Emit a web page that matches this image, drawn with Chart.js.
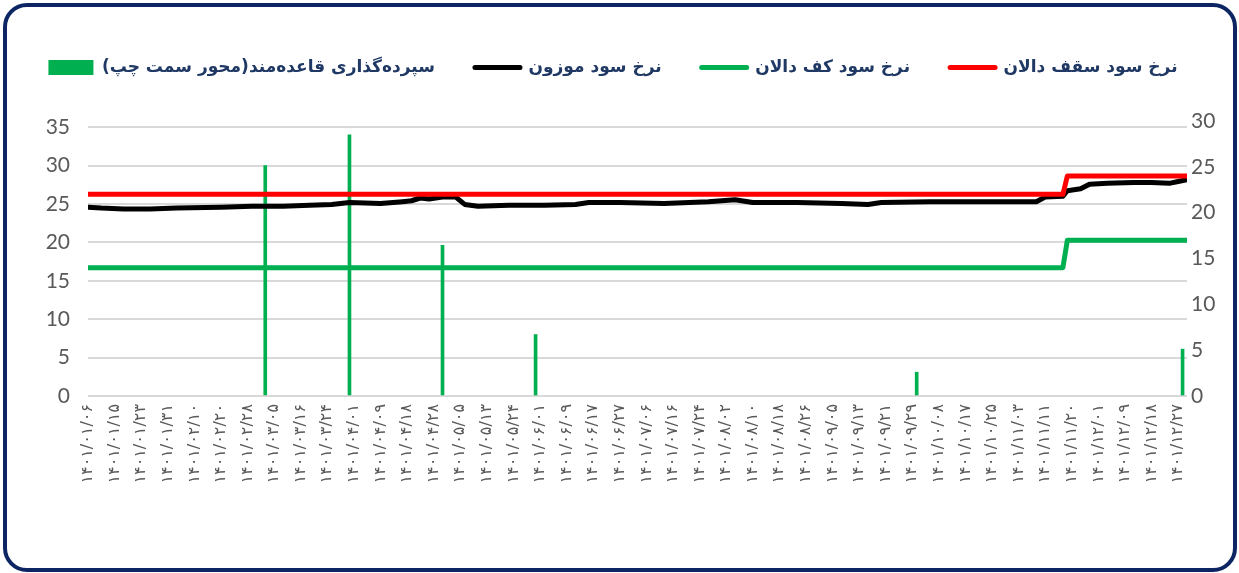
<!DOCTYPE html>
<html>
<head>
<meta charset="utf-8">
<script src="https://cdn.jsdelivr.net/npm/chart.js@4.4.1/dist/chart.umd.min.js"></script>
<style>
  html, body { margin: 0; padding: 0; background: #ffffff; }
  #wrap { position: relative; width: 1239px; height: 573px; overflow: hidden; background: #fff; }
  #frame { position: absolute; left: 3px; top: 3px; width: 1234px; height: 569px; box-sizing: border-box;
           border: 4px solid #0E2563; border-radius: 24px; pointer-events: none; }
  canvas { position: absolute; left: 0; top: 0; }
</style>
</head>
<body>
<div id="wrap">
  <canvas id="c" width="1239" height="573"></canvas>
  <div id="frame"></div>
</div>
<script>
// ---- Data ----
const tickLabels = [
  '۱۴۰۱/۰۱/۰۶','۱۴۰۱/۰۱/۱۵','۱۴۰۱/۰۱/۲۳','۱۴۰۱/۰۱/۳۱','۱۴۰۱/۰۲/۱۰','۱۴۰۱/۰۲/۲۰','۱۴۰۱/۰۲/۲۸',
  '۱۴۰۱/۰۳/۰۵','۱۴۰۱/۰۳/۱۶','۱۴۰۱/۰۳/۲۴','۱۴۰۱/۰۴/۰۱','۱۴۰۱/۰۴/۰۹','۱۴۰۱/۰۴/۱۸','۱۴۰۱/۰۴/۲۸',
  '۱۴۰۱/۰۵/۰۵','۱۴۰۱/۰۵/۱۳','۱۴۰۱/۰۵/۲۴','۱۴۰۱/۰۶/۰۱','۱۴۰۱/۰۶/۰۹','۱۴۰۱/۰۶/۱۷','۱۴۰۱/۰۶/۲۷',
  '۱۴۰۱/۰۷/۰۶','۱۴۰۱/۰۷/۱۶','۱۴۰۱/۰۷/۲۴','۱۴۰۱/۰۸/۰۲','۱۴۰۱/۰۸/۱۰','۱۴۰۱/۰۸/۱۸','۱۴۰۱/۰۸/۲۶',
  '۱۴۰۱/۰۹/۰۵','۱۴۰۱/۰۹/۱۳','۱۴۰۱/۰۹/۲۱','۱۴۰۱/۰۹/۲۹','۱۴۰۱/۱۰/۰۸','۱۴۰۱/۱۰/۱۷','۱۴۰۱/۱۰/۲۵',
  '۱۴۰۱/۱۱/۰۳','۱۴۰۱/۱۱/۱۱','۱۴۰۱/۱۱/۲۰','۱۴۰۱/۱۲/۰۱','۱۴۰۱/۱۲/۰۹','۱۴۰۱/۱۲/۱۸','۱۴۰۱/۱۲/۲۷'
];
const tickEvery = 6;          // one date label every 6 trading days
const lastIndex = 248;        // last trading-day index in the series
const leftTicks = [0, 5, 10, 15, 20, 25, 30, 35];
const rightTicks = [0, 5, 10, 15, 20, 25, 30];

// Rule-based deposit (left axis) — trading-day index and amount
const depositIdx = [40, 59, 80, 101, 187, 247];
const depositVal = [30, 34, 19.6, 8, 3.1, 6.1];

// Corridor ceiling rate (right axis)
const capIdx = [0, 220, 221, 248];
const capVal = [22, 22, 24, 24];

// Corridor floor rate (right axis)
const floorIdx = [0, 220, 221, 248];
const floorVal = [14, 14, 17, 17];

// Weighted interbank rate (right axis)
const weightedIdx = [0, 3, 8, 14, 20, 30, 37, 44, 50, 55, 59, 66, 71, 73, 75, 77, 80, 83, 85, 88, 95, 103,
  110, 113, 120, 130, 140, 146, 150, 160, 170, 176, 179, 190, 200, 210, 214, 216, 220, 221, 224, 226,
  230, 236, 240, 244, 246, 248];
const weightedVal = [20.6, 20.5, 20.4, 20.4, 20.5, 20.6, 20.7, 20.7, 20.8, 20.9, 21.1, 21.0, 21.2, 21.3, 21.6, 21.5, 21.7, 21.7, 20.9, 20.7, 20.8, 20.8,
  20.9, 21.1, 21.1, 21.0, 21.2, 21.4, 21.1, 21.1, 21.0, 20.9, 21.1, 21.2, 21.2, 21.2, 21.2, 21.7, 21.8, 22.4, 22.6, 23.1,
  23.2, 23.3, 23.3, 23.2, 23.4, 23.6];

const seriesNames = [
  'نرخ سود سقف دالان',
  'نرخ سود کف دالان',
  'نرخ سود موزون',
  'سپرده‌گذاری قاعده‌مند(محور سمت چپ)'
];

const pts = (xs, ys) => xs.map((x, i) => ({ x: x, y: ys[i] }));

const GRID = '#D9D9D9';
const TICK = '#595959';
const LEGEND_TXT = '#1F3864';
const FA = "'DejaVu Sans', sans-serif";
const NUM = "Lato, 'Open Sans', sans-serif";

const legendSpacer = {
  id: 'legendSpacer',
  beforeInit(chart) {
    const origFit = chart.legend.fit;
    chart.legend.fit = function () { origFit.call(this); this.height += 35; };
  }
};

new Chart(document.getElementById('c'), {
  data: {
    datasets: [
      { type: 'line', label: seriesNames[0], data: pts(capIdx, capVal), yAxisID: 'yR', xAxisID: 'x',
        borderColor: '#FF0000', backgroundColor: '#FF0000', borderWidth: 5, pointRadius: 0, tension: 0,
        borderCapStyle: 'round', borderJoinStyle: 'round' },
      { type: 'line', label: seriesNames[1], data: pts(floorIdx, floorVal), yAxisID: 'yR', xAxisID: 'x',
        borderColor: '#00B050', backgroundColor: '#00B050', borderWidth: 5, pointRadius: 0, tension: 0,
        borderCapStyle: 'round', borderJoinStyle: 'round' },
      { type: 'line', label: seriesNames[2], data: pts(weightedIdx, weightedVal), yAxisID: 'yR', xAxisID: 'x',
        borderColor: '#000000', backgroundColor: '#000000', borderWidth: 5, pointRadius: 0, tension: 0,
        borderCapStyle: 'round', borderJoinStyle: 'round' },
      { type: 'bar', label: seriesNames[3], data: pts(depositIdx, depositVal), yAxisID: 'yL', xAxisID: 'x',
        backgroundColor: '#00B050', borderColor: '#00B050', borderWidth: 0, barThickness: 3 }
    ]
  },
  options: {
    responsive: false,
    animation: false,
    layout: { padding: { top: 19, left: 0, right: 13, bottom: 67 } },
    plugins: {
      tooltip: { enabled: false },
      legend: {
        position: 'top',
        reverse: true,
        labels: {
          usePointStyle: true,
          pointStyleWidth: 45,
          boxHeight: 15,
          padding: 40,
          color: LEGEND_TXT,
          font: { family: FA, size: 17, weight: 'bold' },
          generateLabels(chart) {
            return chart.data.datasets.map((ds, i) => ({
              text: ds.label,
              fillStyle: ds.backgroundColor,
              strokeStyle: ds.borderColor,
              lineWidth: ds.type === 'bar' ? 0 : 5,
              lineCap: 'round',
              pointStyle: ds.type === 'bar' ? 'rect' : 'line',
              fontColor: LEGEND_TXT,
              hidden: false,
              datasetIndex: i
            }));
          }
        }
      }
    },
    scales: {
      x: {
        type: 'linear',
        min: 0,
        max: lastIndex,
        offset: false,
        grid: { display: false, drawTicks: false, offset: false },
        border: { display: false },
        afterBuildTicks(axis) {
          axis.ticks = tickLabels.map((_, i) => ({ value: i * tickEvery }));
        },
        afterFit(axis) { axis.height = 110; },
        ticks: {
          autoSkip: false,
          maxRotation: 90,
          minRotation: 90,
          padding: 8,
          color: TICK,
          font: { family: FA, size: 16 },
          callback: (v) => tickLabels[Math.round(v / tickEvery)] ?? ''
        }
      },
      yL: {
        type: 'linear',
        position: 'left',
        min: 0,
        max: 35.8,
        afterBuildTicks(axis) { axis.ticks = leftTicks.map(v => ({ value: v })); },
        afterFit(axis) { axis.width = 88; },
        grid: { color: GRID, lineWidth: 2, drawTicks: false },
        border: { display: false },
        ticks: { padding: 18, color: TICK, font: { family: NUM, size: 21 } }
      },
      yR: {
        type: 'linear',
        position: 'right',
        min: 0,
        max: 30,
        afterBuildTicks(axis) { axis.ticks = rightTicks.map(v => ({ value: v })); },
        afterFit(axis) { axis.width = 39; },
        grid: { display: false, drawTicks: false },
        border: { display: false },
        ticks: { padding: 4, color: TICK, font: { family: NUM, size: 21 } }
      }
    }
  },
  plugins: [legendSpacer]
});
</script>
</body>
</html>
